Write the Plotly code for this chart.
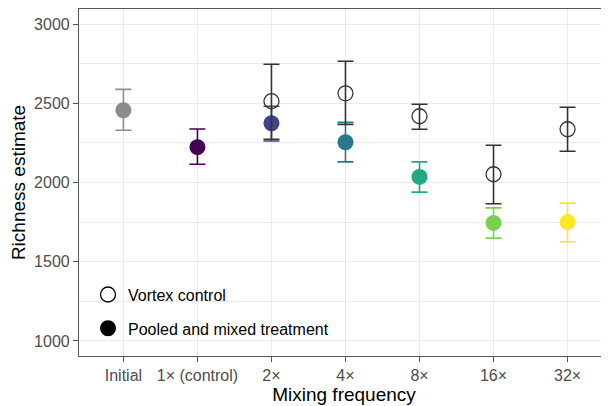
import plotly.graph_objects as go

categories = ["Initial", "1× (control)", "2×", "4×", "8×", "16×", "32×"]

# Pooled and mixed treatment (filled), one per category
filled_mean = [2456, 2223, 2374, 2254, 2035, 1745, 1750]
filled_low = [2330, 2115, 2262, 2130, 1939, 1649, 1626]
filled_high = [2588, 2338, 2481, 2380, 2130, 1840, 1870]
filled_colors = ["#8c8c8c", "#440154", "#414487", "#2A788E", "#22A884", "#7AD151", "#FDE725"]

# Vortex control (open), categories 2x..32x
open_cats = ["2×", "4×", "8×", "16×", "32×"]
open_mean = [2513, 2563, 2418, 2052, 2336]
open_low = [2273, 2367, 2336, 1866, 2197]
open_high = [2746, 2765, 2494, 2235, 2475]

FONT = "Liberation Sans, Arial, Helvetica, sans-serif"

fig = go.Figure()

# legend-area white box (hides gridlines)
fig.add_shape(type="rect", xref="paper", yref="paper", x0=0, x1=0.498, y0=0, y1=0.283,
              fillcolor="white", line=dict(width=0), layer="between")

for i, c in enumerate(categories):
    fig.add_trace(go.Scatter(
        x=[i], y=[filled_mean[i]], mode="markers",
        marker=dict(color=filled_colors[i], size=16, line=dict(width=0)),
        error_y=dict(type="data", symmetric=False,
                     array=[filled_high[i] - filled_mean[i]],
                     arrayminus=[filled_mean[i] - filled_low[i]],
                     color=filled_colors[i], thickness=1.6, width=8),
        showlegend=False, hoverinfo="skip"))

ox = [categories.index(c) for c in open_cats]
fig.add_trace(go.Scatter(
    x=ox, y=open_mean, mode="markers",
    marker=dict(symbol="circle-open", color="#333333", size=15, line=dict(width=1.3)),
    error_y=dict(type="data", symmetric=False,
                 array=[h - m for h, m in zip(open_high, open_mean)],
                 arrayminus=[m - l for m, l in zip(open_mean, open_low)],
                 color="#333333", thickness=1.6, width=8),
    showlegend=False, hoverinfo="skip"))

# legend entries
fig.add_trace(go.Scatter(x=[None], y=[None], mode="markers", name="Vortex control",
                         legendgroup="a",
                         marker=dict(symbol="circle", color="white", size=15,
                                     line=dict(color="black", width=1.3))))
fig.add_trace(go.Scatter(x=[None], y=[None], mode="markers", name="Pooled and mixed treatment",
                         legendgroup="b",
                         marker=dict(symbol="circle", color="black", size=16)))

# page body has an 8px margin, so the figure is offset by (8, 8) on screen
fig.update_layout(
    width=601, height=398,
    margin=dict(l=71, r=0, t=1, b=50),
    paper_bgcolor="white", plot_bgcolor="white",
    font=dict(family=FONT, color="#4d4d4d", size=16),
    legend=dict(x=0.017, y=0.226, xanchor="left", yanchor="top",
                bgcolor="rgba(0,0,0,0)", font=dict(size=16, color="black"),
                itemsizing="trace", tracegroupgap=10, itemwidth=30),
    xaxis=dict(range=[-0.6, 6.56], tickmode="array", tickvals=list(range(len(categories))),
               ticktext=categories, showgrid=True, gridcolor="#ebebeb", gridwidth=1.3,
               zeroline=False, showline=True, linecolor="#555555", linewidth=1.2, mirror=True,
               ticks="outside", ticklen=5, tickcolor="#555555", tickwidth=1.2,
               tickfont=dict(size=16, color="#4d4d4d"), automargin=False,
               title=dict(text="Mixing frequency", font=dict(size=19, color="black"), standoff=1)),
    yaxis=dict(range=[905, 3095], tickmode="array", tickvals=[1000, 1500, 2000, 2500, 3000],
               showgrid=True, gridcolor="#ebebeb", gridwidth=1.3,
               minor=dict(tickvals=[1250, 1750, 2250, 2750], showgrid=True,
                          gridcolor="#ebebeb", gridwidth=0.7, ticks=""),
               zeroline=False, showline=True, linecolor="#555555", linewidth=1.2,
               ticks="outside", ticklen=5, tickcolor="#555555", tickwidth=1.2,
               tickfont=dict(size=16, color="#4d4d4d"), automargin=False,
               title=dict(text="Richness estimate", font=dict(size=19, color="black"), standoff=6)),
)

fig.write_html("out.html")
